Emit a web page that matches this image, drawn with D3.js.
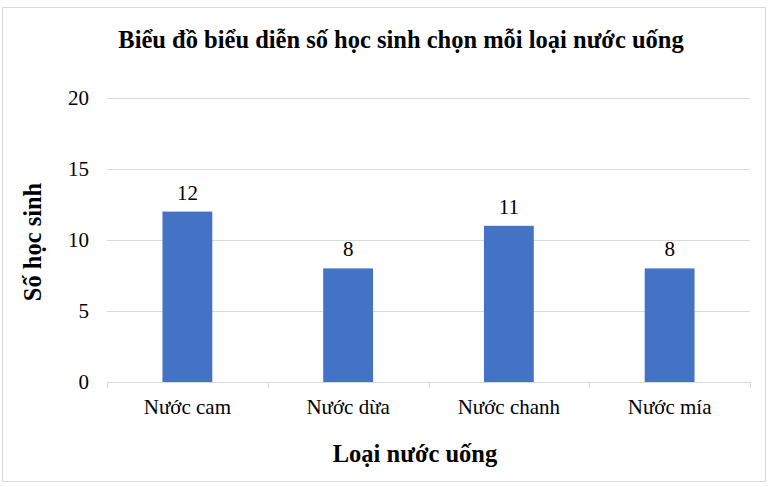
<!DOCTYPE html>
<html>
<head>
<meta charset="utf-8">
<script src="https://cdn.jsdelivr.net/npm/d3@7"></script>
<style>
  body { margin: 0; background: #fff; }
  svg text { font-family: "Liberation Serif", "DejaVu Serif", serif; }
</style>
</head>
<body>
<svg id="chart" width="772" height="487"></svg>
<script>
const categories = ["Nước cam", "Nước dừa", "Nước chanh", "Nước mía"];
const values = [12, 8, 11, 8];
const yTicks = [0, 5, 10, 15, 20];

const title = "Biểu đồ biểu diễn số học sinh chọn mỗi loại nước uống";
const xTitle = "Loại nước uống";
const yTitle = "Số học sinh";

const svg = d3.select("#chart");
const plot = { left: 107, right: 750, top: 98, bottom: 382 };
const labelSize = 21;
const titleSize = 24.5;

// outer frame
svg.append("rect")
  .attr("x", 2.5).attr("y", 7.5)
  .attr("width", 763).attr("height", 474)
  .attr("fill", "#fff")
  .attr("stroke", "#d9d9d9");

const x = d3.scaleBand()
  .domain(categories)
  .range([plot.left, plot.right])
  .paddingInner(0.69)
  .paddingOuter(0.345);

const y = d3.scaleLinear().domain([0, 20]).range([plot.bottom, plot.top]);

// grid
svg.append("g")
  .selectAll("line")
  .data(yTicks.slice(1))
  .join("line")
  .attr("x1", plot.left).attr("x2", plot.right)
  .attr("y1", (d) => Math.round(y(d)) + 0.5)
  .attr("y2", (d) => Math.round(y(d)) + 0.5)
  .attr("stroke", "#d9d9d9");

// y tick labels
svg.append("g")
  .selectAll("text")
  .data(yTicks)
  .join("text")
  .attr("x", 89)
  .attr("y", (d) => y(d))
  .attr("dy", "0.33em")
  .attr("text-anchor", "end")
  .attr("font-size", labelSize)
  .attr("fill", "#000")
  .text((d) => d);

// bars
svg.append("g")
  .selectAll("rect")
  .data(values)
  .join("rect")
  .attr("x", (d, i) => x(categories[i]))
  .attr("y", (d) => y(d))
  .attr("width", x.bandwidth())
  .attr("height", (d) => y(0) - y(d))
  .attr("fill", "#4472c4");

// value labels
svg.append("g")
  .selectAll("text")
  .data(values)
  .join("text")
  .attr("x", (d, i) => x(categories[i]) + x.bandwidth() / 2)
  .attr("y", (d) => y(d) - 12)
  .attr("text-anchor", "middle")
  .attr("font-size", labelSize)
  .attr("fill", "#000")
  .text((d) => d);

// x axis line and ticks
const step = (plot.right - plot.left) / categories.length;
const xAxis = svg.append("g").attr("stroke", "#d9d9d9");
xAxis.append("line")
  .attr("x1", plot.left).attr("x2", plot.right)
  .attr("y1", plot.bottom + 0.5).attr("y2", plot.bottom + 0.5);
xAxis.selectAll("line.tick")
  .data(d3.range(categories.length + 1))
  .join("line")
  .attr("class", "tick")
  .attr("x1", (d) => Math.round(plot.left + d * step) + 0.5)
  .attr("x2", (d) => Math.round(plot.left + d * step) + 0.5)
  .attr("y1", plot.bottom).attr("y2", plot.bottom + 6);

// category labels
svg.append("g")
  .selectAll("text")
  .data(categories)
  .join("text")
  .attr("x", (d) => x(d) + x.bandwidth() / 2)
  .attr("y", 414)
  .attr("text-anchor", "middle")
  .attr("font-size", labelSize)
  .attr("fill", "#000")
  .text((d) => d);

// titles
svg.append("text")
  .attr("x", 401).attr("y", 48)
  .attr("text-anchor", "middle")
  .attr("font-size", titleSize)
  .attr("font-weight", "bold")
  .text(title);

svg.append("text")
  .attr("x", 415).attr("y", 462)
  .attr("text-anchor", "middle")
  .attr("font-size", titleSize)
  .attr("font-weight", "bold")
  .text(xTitle);

svg.append("text")
  .attr("transform", "translate(41,242) rotate(-90)")
  .attr("text-anchor", "middle")
  .attr("font-size", titleSize)
  .attr("font-weight", "bold")
  .text(yTitle);
</script>
</body>
</html>
